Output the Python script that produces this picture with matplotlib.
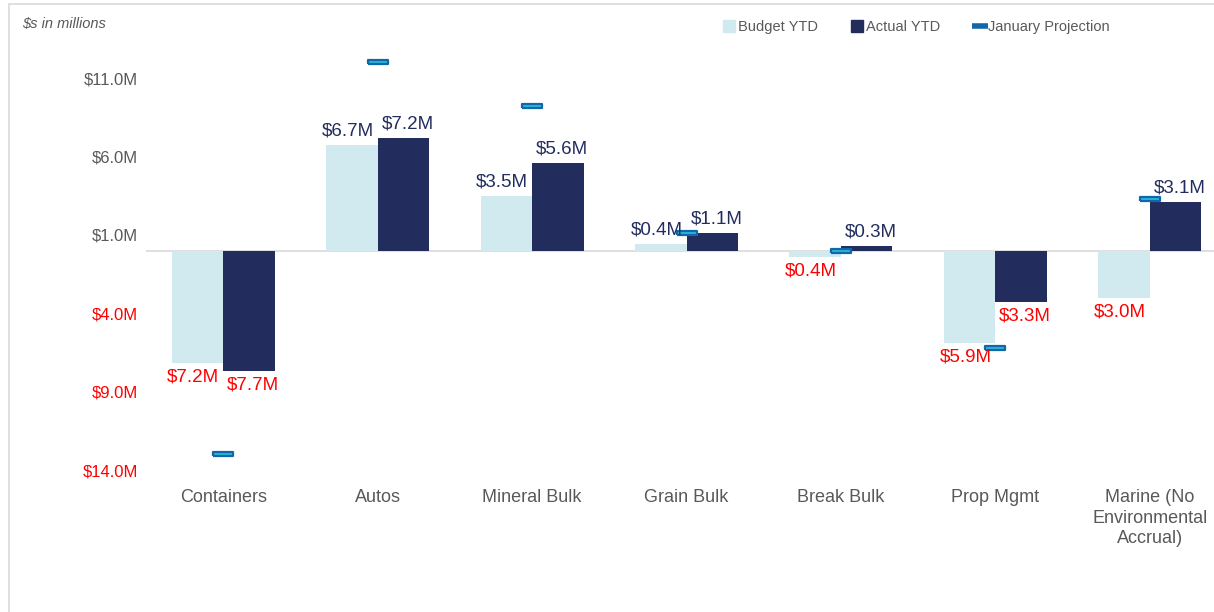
import numpy as np
import matplotlib.pyplot as plt
from matplotlib.patches import Rectangle
from matplotlib.lines import Line2D

plt.rcParams['font.family'] = ['Liberation Sans', 'DejaVu Sans']

# Dados
categorias = ['Containers', 'Autos', 'Mineral Bulk', 'Grain Bulk', 'Break Bulk',
              'Prop Mgmt', 'Marine (No\nEnvironmental\nAccrual)']
budget = [-7.2, 6.7, 3.5, 0.4, -0.4, -5.9, -3.0]
actual = [-7.7, 7.2, 5.6, 1.1, 0.3, -3.3, 3.1]
projecao = [-13.0, 12.0, 9.2, 1.1, 0.0, -6.2, 3.3]
yticks = [11, 6, 1, -4, -9, -14]

c_budget = '#D0EAF0'
c_actual = '#222D5E'
c_proj_edge = '#1068A8'
c_proj_face = '#2CB8D8'
cinza = '#595959'
vermelho = '#FF0000'

fig = plt.figure(figsize=(12.14, 6.12), dpi=100)
ax = fig.add_axes([146/1214, 142/612, 1081/1214, 439/612])

x = np.arange(len(categorias))
w = 1/3
ax.bar(x - w/2, budget, w, color=c_budget, zorder=2)
ax.bar(x + w/2, actual, w, color=c_actual, zorder=2)
ax.axhline(0, color='#D9D9D9', lw=1.2, zorder=1)

# marcador retangular horizontal para a projeção
rect = [(-1, -0.22), (1, -0.22), (1, 0.22), (-1, 0.22), (-1, -0.22)]
ax.scatter(x, projecao, marker=rect, s=190, facecolor=c_proj_face,
           edgecolor=c_proj_edge, linewidth=1.6, zorder=4)

# rótulos das barras
def rotulo(xi, v, dx):
    cor = c_actual if v >= 0 else vermelho
    ax.annotate(f'${abs(v):.1f}M', (xi, v), xytext=(dx, 4 if v >= 0 else -4),
                textcoords='offset points', ha='center',
                va='bottom' if v >= 0 else 'top', fontsize=13.5, color=cor, zorder=5)

for i in range(len(x)):
    rotulo(x[i] - w/2, budget[i], -3)
    rotulo(x[i] + w/2, actual[i], 3)

ax.set_xlim(-0.5, len(x) - 0.5)
ax.set_ylim(-14, 14)
ax.set_yticks(yticks)
ax.set_yticklabels([f'${abs(v):.1f}M' for v in yticks], fontsize=12)
for lab, v in zip(ax.get_yticklabels(), yticks):
    lab.set_color(cinza if v > 0 else vermelho)
ax.set_xticks(x)
ax.set_xticklabels(categorias, fontsize=13, color=cinza, va='top', linespacing=1.25)
ax.tick_params(axis='both', length=0)
ax.tick_params(axis='y', pad=6)
ax.tick_params(axis='x', pad=14)
for s in ax.spines.values():
    s.set_visible(False)

fig.text(22/1214, 1 - 24/612, '$s in millions', fontsize=10.5, style='italic',
         color=cinza, va='center')

handles = [
    Line2D([], [], marker='s', ls='', markersize=8, color=c_budget),
    Line2D([], [], marker='s', ls='', markersize=8, color=c_actual),
    Line2D([], [], marker='_', ls='', markersize=11, markeredgewidth=4, color=c_proj_edge),
]
fig.legend(handles, ['Budget YTD', 'Actual YTD', 'January Projection'],
           loc='center', bbox_to_anchor=(916/1214, 1 - 27/612), ncol=3, frameon=False,
           fontsize=10.5, labelcolor=cinza, handletextpad=0.1, columnspacing=2.2,
           handlelength=1)

# moldura
fig.patches.append(Rectangle((9/1214, -0.05), 1.1, 1.05 - 4/612, transform=fig.transFigure,
                             fill=False, edgecolor='#D9D9D9', lw=1.2))

fig.savefig('out.png', dpi=100)
